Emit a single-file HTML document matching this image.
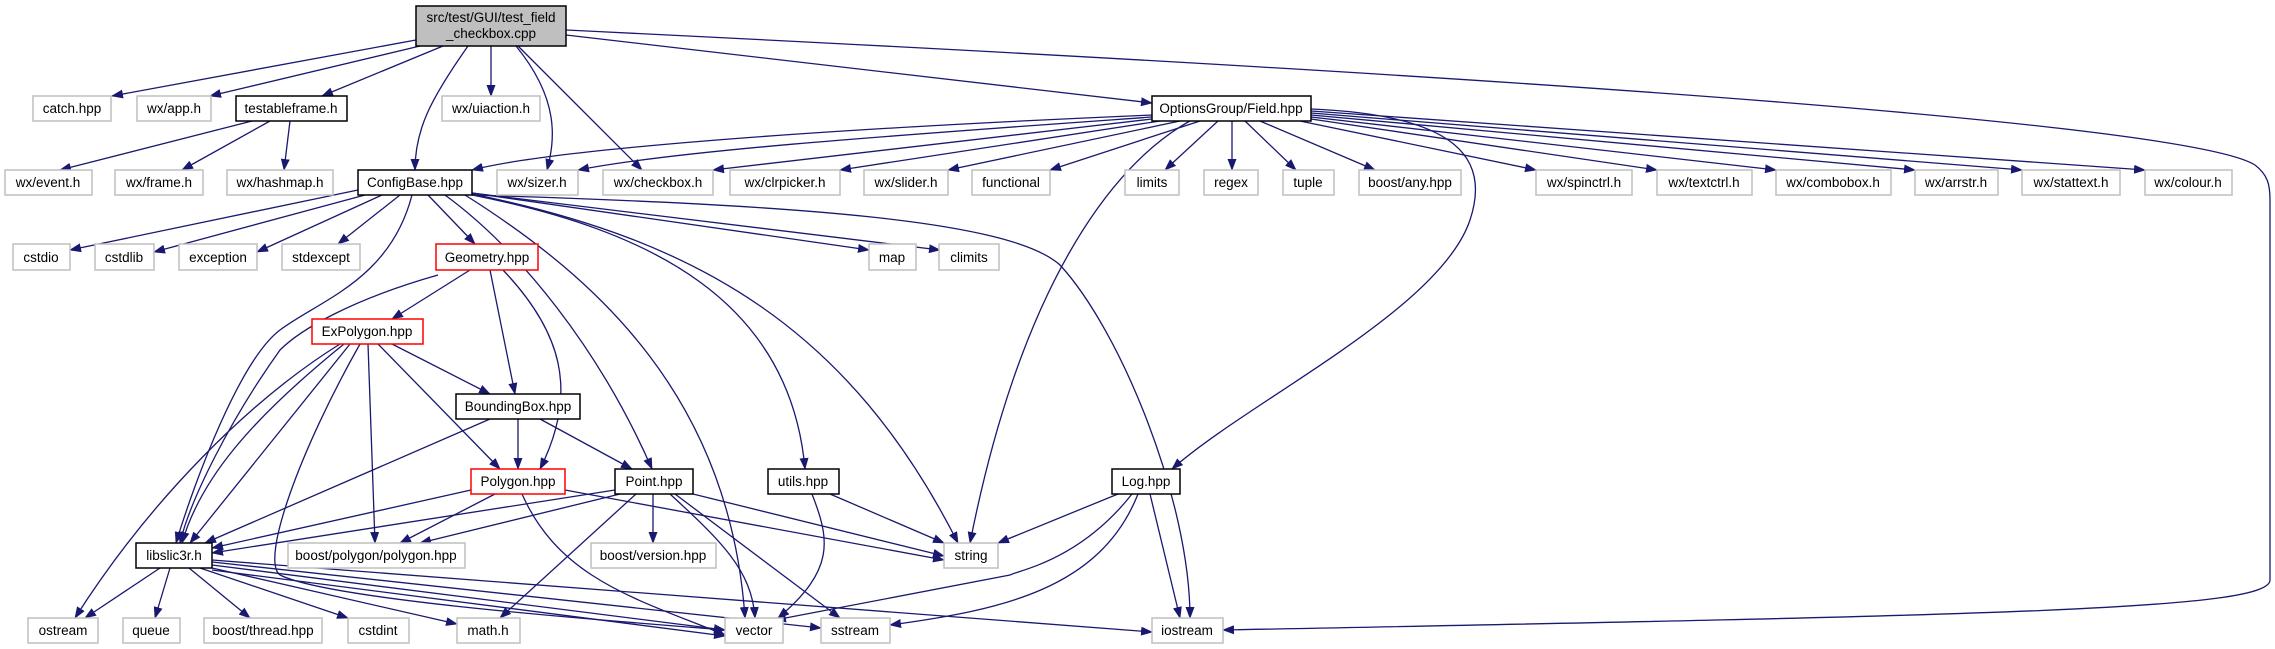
<!DOCTYPE html>
<html><head><meta charset="utf-8"><style>
html,body{margin:0;padding:0;background:#fff;width:2275px;height:649px;overflow:hidden}
text{font-family:"Liberation Sans",Arial,sans-serif;font-size:13.5px;fill:#000;text-anchor:middle}
.g rect{fill:#fff;stroke:#bfbfbf;stroke-width:1.5}
.b rect{fill:#fff;stroke:#000;stroke-width:1.5}
.r rect{fill:#fff;stroke:#ff0000;stroke-width:1.5}
.e path{fill:none;stroke:#191970;stroke-width:1.3;marker-end:url(#a)}
</style></head><body>
<svg width="2275" height="649" viewBox="0 0 2275 649" xmlns="http://www.w3.org/2000/svg">
<defs><marker id="a" markerUnits="userSpaceOnUse" markerWidth="12" markerHeight="9" refX="11" refY="4.5" orient="auto"><path d="M0,0 L12,4.5 L0,9 z" fill="#191970"/></marker></defs>
<g class="e">
<path d="M416,40 L112,96"/><path d="M420,46 L210,96"/><path d="M443,46 L322,96"/>
<path d="M468,46 C430,100 415,130 415,170"/><path d="M491,46 L491,96"/>
<path d="M516,46 C560,100 555,140 547,170"/><path d="M518,46 L642,170"/>
<path d="M566,35 L1152,103"/>
<path d="M566,30 C1700,85 2200,130 2255,165 C2268,175 2270,185 2270,200 L2270,580 C2270,610 2000,615 1223,630"/>
<path d="M252,121 L60,170"/><path d="M270,121 L182,170"/><path d="M290,121 L284,170"/>
<path d="M1152,115 C800,130 550,150 472,170"/><path d="M1152,117 C900,135 680,150 578,170"/>
<path d="M1152,119 L713,170"/><path d="M1160,121 L840,170"/><path d="M1180,121 L948,170"/>
<path d="M1200,121 L1050,170"/><path d="M1190,121 C1110,165 1020,290 970,543"/>
<path d="M1218,121 L1165,170"/><path d="M1232,121 L1232,170"/><path d="M1245,121 L1296,170"/>
<path d="M1260,121 L1375,170"/><path d="M1300,121 L1536,170"/><path d="M1311,119 L1657,170"/>
<path d="M1311,117 L1776,170"/><path d="M1311,115 L1915,170"/><path d="M1311,113 L2022,170"/>
<path d="M1311,111 L2145,170"/>
<path d="M1311,109 C1460,115 1490,160 1470,220 C1440,310 1250,400 1172,469"/>
<path d="M358,190 L70,250"/><path d="M365,195 L154,252"/><path d="M382,195 L257,252"/>
<path d="M400,195 L338,244"/><path d="M428,195 L475,244"/>
<path d="M412,195 C390,280 320,300 280,330 C240,360 195,480 176,543"/>
<path d="M445,195 C520,250 600,350 652,469"/>
<path d="M465,195 C600,280 730,400 745,618"/>
<path d="M472,195 C650,230 790,300 805,469"/>
<path d="M472,194 C700,240 850,330 958,543"/>
<path d="M472,193 L869,250"/><path d="M472,193 L940,250"/>
<path d="M472,195 C800,205 1010,220 1060,265 C1120,330 1190,500 1190,618"/>
<path d="M470,270 L392,319"/><path d="M490,270 L515,394"/>
<path d="M503,270 C560,330 580,390 540,469"/>
<path d="M438,275 C350,300 300,330 280,350 C230,420 190,500 180,543"/>
<path d="M392,344 L490,394"/><path d="M378,344 L500,469"/><path d="M368,344 L375,543"/>
<path d="M360,344 C300,450 260,560 280,575 C330,600 600,620 725,630"/>
<path d="M350,344 L190,543"/><path d="M344,344 C250,420 200,480 182,543"/>
<path d="M340,344 C250,400 150,500 75,618"/>
<path d="M490,419 L205,543"/><path d="M518,419 L518,469"/><path d="M540,419 L632,469"/>
<path d="M471,490 L212,548"/><path d="M495,494 L400,543"/><path d="M565,490 L944,560"/>
<path d="M522,494 C560,580 640,600 725,635"/>
<path d="M615,490 L212,553"/><path d="M620,494 L420,543"/><path d="M653,494 L653,543"/>
<path d="M636,494 L500,618"/><path d="M670,494 C720,540 752,570 755,618"/>
<path d="M675,494 L840,618"/><path d="M693,494 L944,556"/>
<path d="M830,494 L944,543"/><path d="M812,494 C830,540 835,570 778,618"/>
<path d="M1118,494 L998,543"/><path d="M1132,494 C1080,560 1020,570 1010,575 L775,620"/>
<path d="M1138,494 C1100,590 1000,610 890,625"/><path d="M1150,494 L1180,618"/>
<path d="M160,568 L85,618"/><path d="M170,568 L155,618"/><path d="M189,568 L250,618"/>
<path d="M200,568 L348,618"/><path d="M212,568 L457,624"/><path d="M212,565 L725,630"/>
<path d="M212,570 L725,636"/><path d="M212,562 L821,628"/><path d="M212,560 L1152,632"/>
</g>
<g><rect x="416" y="6" width="150" height="40" fill="#bfbfbf" stroke="#000" stroke-width="1.5"/>
<text x="491" y="22">src/test/GUI/test_field</text><text x="491" y="38">_checkbox.cpp</text></g>
<g class="g">
<rect x="33" y="96" width="78" height="25"/><text x="72" y="113">catch.hpp</text>
<rect x="137" y="96" width="74" height="25"/><text x="174" y="113">wx/app.h</text>
<rect x="442" y="96" width="98" height="25"/><text x="491" y="113">wx/uiaction.h</text>
<rect x="5" y="170" width="87" height="25"/><text x="48" y="187">wx/event.h</text>
<rect x="115" y="170" width="88" height="25"/><text x="159" y="187">wx/frame.h</text>
<rect x="227" y="170" width="106" height="25"/><text x="280" y="187">wx/hashmap.h</text>
<rect x="497" y="170" width="81" height="25"/><text x="537" y="187">wx/sizer.h</text>
<rect x="603" y="170" width="110" height="25"/><text x="658" y="187">wx/checkbox.h</text>
<rect x="730" y="170" width="110" height="25"/><text x="785" y="187">wx/clrpicker.h</text>
<rect x="864" y="170" width="84" height="25"/><text x="906" y="187">wx/slider.h</text>
<rect x="972" y="170" width="78" height="25"/><text x="1011" y="187">functional</text>
<rect x="1125" y="170" width="54" height="25"/><text x="1152" y="187">limits</text>
<rect x="1204" y="170" width="54" height="25"/><text x="1231" y="187">regex</text>
<rect x="1283" y="170" width="51" height="25"/><text x="1308" y="187">tuple</text>
<rect x="1359" y="170" width="102" height="25"/><text x="1410" y="187">boost/any.hpp</text>
<rect x="1536" y="170" width="96" height="25"/><text x="1584" y="187">wx/spinctrl.h</text>
<rect x="1657" y="170" width="95" height="25"/><text x="1704" y="187">wx/textctrl.h</text>
<rect x="1776" y="170" width="115" height="25"/><text x="1833" y="187">wx/combobox.h</text>
<rect x="1915" y="170" width="83" height="25"/><text x="1956" y="187">wx/arrstr.h</text>
<rect x="2022" y="170" width="98" height="25"/><text x="2071" y="187">wx/stattext.h</text>
<rect x="2145" y="170" width="87" height="25"/><text x="2188" y="187">wx/colour.h</text>
<rect x="13" y="244" width="57" height="26"/><text x="41" y="262">cstdio</text>
<rect x="95" y="244" width="59" height="26"/><text x="124" y="262">cstdlib</text>
<rect x="179" y="244" width="78" height="26"/><text x="218" y="262">exception</text>
<rect x="282" y="244" width="78" height="26"/><text x="321" y="262">stdexcept</text>
<rect x="869" y="244" width="47" height="26"/><text x="892" y="262">map</text>
<rect x="939" y="244" width="60" height="26"/><text x="969" y="262">climits</text>
<rect x="288" y="543" width="177" height="25"/><text x="376" y="560">boost/polygon/polygon.hpp</text>
<rect x="591" y="543" width="125" height="25"/><text x="653" y="560">boost/version.hpp</text>
<rect x="944" y="543" width="54" height="25"/><text x="971" y="560">string</text>
<rect x="28" y="618" width="70" height="25"/><text x="63" y="635">ostream</text>
<rect x="123" y="618" width="57" height="25"/><text x="151" y="635">queue</text>
<rect x="204" y="618" width="118" height="25"/><text x="263" y="635">boost/thread.hpp</text>
<rect x="348" y="618" width="61" height="25"/><text x="378" y="635">cstdint</text>
<rect x="457" y="618" width="63" height="25"/><text x="488" y="635">math.h</text>
<rect x="725" y="618" width="58" height="25"/><text x="754" y="635">vector</text>
<rect x="821" y="618" width="69" height="25"/><text x="855" y="635">sstream</text>
<rect x="1152" y="618" width="71" height="25"/><text x="1187" y="635">iostream</text>
</g>
<g class="b">
<rect x="236" y="96" width="111" height="25"/><text x="291" y="113">testableframe.h</text>
<rect x="1152" y="96" width="159" height="25"/><text x="1231" y="113">OptionsGroup/Field.hpp</text>
<rect x="358" y="170" width="114" height="25"/><text x="415" y="187">ConfigBase.hpp</text>
<rect x="456" y="394" width="124" height="25"/><text x="518" y="411">BoundingBox.hpp</text>
<rect x="615" y="469" width="78" height="25"/><text x="654" y="486">Point.hpp</text>
<rect x="768" y="469" width="71" height="25"/><text x="803" y="486">utils.hpp</text>
<rect x="1112" y="469" width="68" height="25"/><text x="1146" y="486">Log.hpp</text>
<rect x="136" y="543" width="76" height="25"/><text x="174" y="560">libslic3r.h</text>
</g>
<g class="r">
<rect x="436" y="244" width="102" height="26"/><text x="487" y="262">Geometry.hpp</text>
<rect x="312" y="319" width="111" height="25"/><text x="367" y="336">ExPolygon.hpp</text>
<rect x="471" y="469" width="94" height="25"/><text x="518" y="486">Polygon.hpp</text>
</g>
</svg>
</body></html>
